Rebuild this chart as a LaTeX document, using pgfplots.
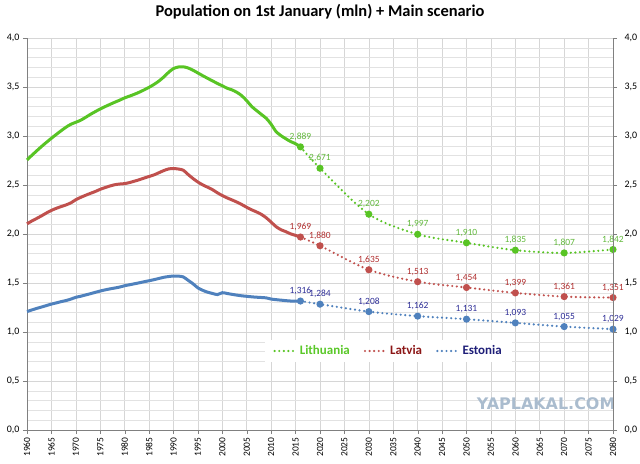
\documentclass[border=0pt]{standalone}
\usepackage{fontspec}
\setmainfont{Carlito}
\newfontfamily\wmfont{DejaVu Sans}
\usepackage{pgfplots}
\usepackage{pgfplotstable}
\pgfplotsset{compat=1.18}
\definecolor{ltg}{RGB}{88,196,36}
\definecolor{lvr}{RGB}{192,80,77}
\definecolor{eeb}{RGB}{79,129,189}
\definecolor{ltlab}{RGB}{96,184,58}
\definecolor{lvlab}{RGB}{176,46,46}
\definecolor{eelab}{RGB}{44,44,150}
\definecolor{ltleg}{RGB}{90,200,40}
\definecolor{lvleg}{RGB}{140,22,22}
\definecolor{eeleg}{RGB}{30,30,120}
\definecolor{gridc}{RGB}{214,214,214}
\definecolor{wm}{RGB}{170,188,206}

\pgfplotstableread{
year lt lv ee
1960 2.756 2.104 1.209
1961 2.803 2.133 1.225
1962 2.849 2.159 1.241
1963 2.894 2.186 1.255
1964 2.936 2.215 1.270
1965 2.977 2.241 1.285
1966 3.016 2.262 1.297
1967 3.054 2.280 1.310
1968 3.090 2.297 1.321
1969 3.120 2.318 1.336
1970 3.140 2.350 1.354
1971 3.161 2.374 1.365
1972 3.190 2.395 1.378
1973 3.221 2.415 1.391
1974 3.249 2.434 1.405
1975 3.276 2.456 1.418
1976 3.300 2.474 1.430
1977 3.323 2.490 1.440
1978 3.345 2.503 1.449
1979 3.366 2.510 1.459
1980 3.389 2.514 1.472
1981 3.407 2.525 1.482
1982 3.426 2.539 1.492
1983 3.447 2.554 1.502
1984 3.471 2.571 1.513
1985 3.497 2.587 1.523
1986 3.526 2.603 1.534
1987 3.560 2.625 1.546
1988 3.602 2.647 1.558
1989 3.650 2.664 1.566
1990 3.688 2.668 1.571
1991 3.704 2.663 1.570
1992 3.706 2.651 1.562
1993 3.694 2.607 1.527
1994 3.671 2.566 1.492
1995 3.643 2.530 1.450
1996 3.615 2.501 1.425
1997 3.588 2.477 1.406
1998 3.562 2.452 1.393
1999 3.536 2.420 1.382
2000 3.512 2.392 1.401
2001 3.487 2.368 1.393
2002 3.470 2.347 1.384
2003 3.445 2.325 1.376
2004 3.410 2.300 1.369
2005 3.360 2.272 1.364
2006 3.302 2.247 1.359
2007 3.260 2.225 1.355
2008 3.220 2.200 1.352
2009 3.180 2.165 1.348
2010 3.120 2.121 1.336
2011 3.045 2.075 1.330
2012 3.004 2.044 1.325
2013 2.972 2.024 1.320
2014 2.943 2.001 1.316
2015 2.921 1.986 1.315
2016 2.889 1.969 1.316
}\hist

\pgfplotstableread{
year lt lv ee
2016 2.889 1.969 1.316
2020 2.671 1.880 1.284
2030 2.202 1.635 1.208
2040 1.997 1.513 1.162
2050 1.910 1.454 1.131
2060 1.835 1.399 1.093
2070 1.807 1.361 1.055
2080 1.842 1.351 1.029
}\proj

\pgfplotsset{
  /pgf/number format/assume math mode=true,
  base/.style={
    at={(0,0)}, anchor=south west,
    scale only axis, width=586bp, height=392bp,
    xmin=1960, xmax=2080, ymin=0, ymax=4,
    ytick={0,0.5,...,4},
    yticklabel style={font=\fontsize{10}{11}\selectfont,
      /pgf/number format/.cd, use comma, fixed, fixed zerofill, precision=1},
    axis line style={draw=black!50},
    tick style={draw=black!50},
    tick align=outside, major tick length=4bp, minor tick length=0pt,
  },
  dotted line/.style={line width=2.4bp, dash pattern=on 0pt off 4.6bp, line cap=round},
  projstyle/.style={#1, dotted line, smooth, mark=*, mark size=2.3bp,
    mark options={solid, fill=#1, draw=#1}},
  labstyle/.style={nodes near coords={\pgfmathprintnumber[use comma,fixed,fixed zerofill,precision=3,assume math mode=true]{\pgfplotspointmeta}},
    every node near coord/.append style={text=#1, font=\fontsize{9.5}{11}\selectfont, anchor=south, inner sep=1bp, yshift=4bp}},
}

\begin{document}
\begin{tikzpicture}
\useasboundingbox (-27bp,-34bp) rectangle (613bp,430bp);
\begin{axis}[base,
  axis x line*=bottom, axis y line*=left,
  xtick={1960,1965,...,2080},
  xticklabel style={rotate=90, anchor=east, font=\fontsize{9.5}{11}\selectfont,
    /pgf/number format/1000 sep={}},
  minor y tick num=4,
  grid=both,
  major grid style={draw=gridc, line width=0.6bp},
  minor grid style={draw=gridc!70, line width=0.5bp},
  clip=false,
  title={Population on 1st January (mln) + Main scenario},
  title style={at={(0.5,1)}, anchor=center, yshift=20bp, font=\bfseries\fontsize{16.5}{18}\selectfont},
  legend style={at={(0.617,0.2015)}, anchor=center, draw=none, fill=white,
    font=\bfseries\fontsize{13}{15}\selectfont, inner xsep=8bp, inner ysep=4bp,
    /tikz/every even column/.append style={column sep=12bp}},
  legend columns=3,
  legend image code/.code={\draw[#1] (0bp,0bp) -- (22bp,0bp);},
]
\node[font=\wmfont\bfseries\fontsize{16}{17}\selectfont, text=wm] at (axis cs:2066.3,0.27) {YAPLAKAL.COM};

\addplot[ltg, line width=3bp, smooth, forget plot] table[x=year, y=lt] {\hist};
\addplot[lvr, line width=3bp, smooth, forget plot] table[x=year, y=lv] {\hist};
\addplot[eeb, line width=3bp, smooth, forget plot] table[x=year, y=ee] {\hist};

\addplot[projstyle=ltg, labstyle=ltlab, forget plot] table[x=year, y=lt] {\proj};
\addplot[projstyle=lvr, labstyle=lvlab, forget plot] table[x=year, y=lv] {\proj};
\addplot[projstyle=eeb, labstyle=eelab, forget plot] table[x=year, y=ee] {\proj};

\addlegendimage{ltg, dotted line}
\addlegendentry{\textcolor{ltleg}{Lithuania}}
\addlegendimage{lvr, dotted line}
\addlegendentry{\textcolor{lvleg}{Latvia}}
\addlegendimage{eeb, dotted line}
\addlegendentry{\textcolor{eeleg}{Estonia}}
\end{axis}
\begin{axis}[base,
  axis x line=none, axis y line*=right,
  yticklabel style={/tikz/xshift=4bp},
]
\end{axis}
\end{tikzpicture}
\end{document}
